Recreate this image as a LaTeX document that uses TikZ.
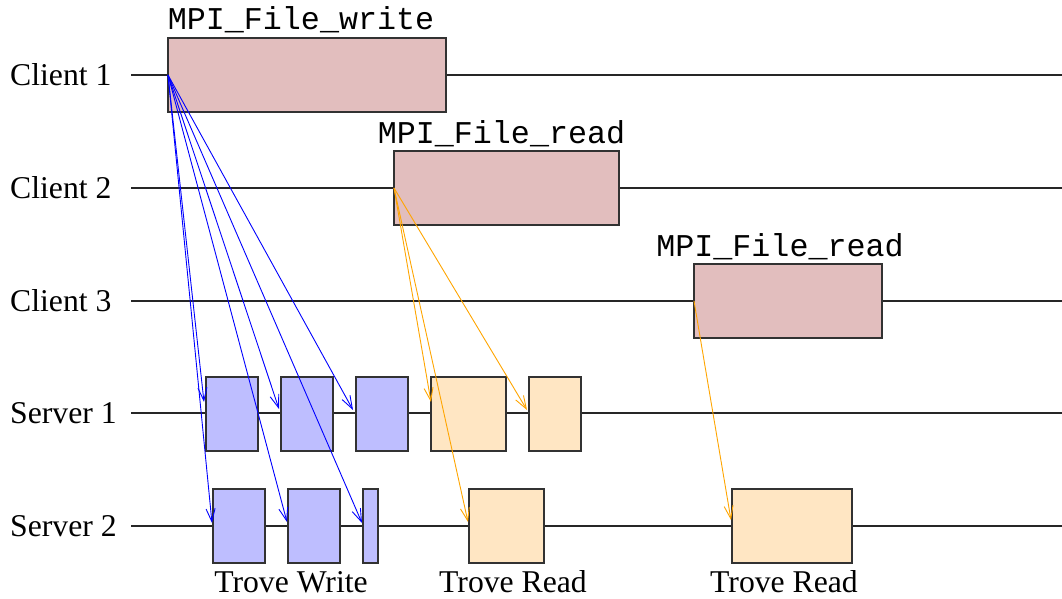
\documentclass[tikz,border=0pt]{standalone}
\usepackage{fontspec}
\setmainfont{Liberation Serif}
\setmonofont{Liberation Mono}
\usetikzlibrary{arrows.meta}
\definecolor{callfill}{RGB}{226,190,190}
\definecolor{writefill}{RGB}{190,190,255}
\definecolor{readfill}{RGB}{255,230,195}
\definecolor{boxedge}{RGB}{50,50,50}
\definecolor{readarrow}{RGB}{255,165,0}
\tikzset{
  lbl/.style={font=\fontsize{31.7}{36}\selectfont, anchor=west, inner sep=0pt},
  fname/.style={font=\fontsize{31.7}{36}\selectfont\ttfamily, anchor=base, inner sep=0pt},
  tlabel/.style={font=\fontsize{31.7}{36}\selectfont, anchor=base, inner sep=0pt},
  timeline/.style={line width=1.2pt, black!85},
  evbox/.style={draw=boxedge, line width=1.4pt, inner sep=0pt, outer sep=0pt, minimum height=74pt},
  callbox/.style={evbox, fill=callfill},
  wbox/.style={evbox, fill=writefill, minimum width=52pt},
  rbox/.style={evbox, fill=readfill},
  msg/.style={line width=0.9pt, -{Straight Barb[length=13pt,width=9pt,line width=0.9pt]}},
  wmsg/.style={msg, blue},
  rmsg/.style={msg, readarrow},
}
\begin{document}
\begin{tikzpicture}[x=1pt, y=-1pt]
\useasboundingbox (0,0) rectangle (1062,599);

% process timelines
\foreach \yy/\nm in {75/c1, 188/c2, 301/c3, 413/s1, 526/s2} {
  \coordinate (\nm-start) at (131,\yy);
  \coordinate (\nm-end) at (1062,\yy);
  \draw[timeline] (\nm-start) -- (\nm-end);
}

% process labels
\node[lbl] (lc1) at (10,75) {Client 1};
\node[lbl] (lc2) at (10,188) {Client 2};
\node[lbl] (lc3) at (10,301) {Client 3};
\node[lbl] (ls1) at (10,413) {Server 1};
\node[lbl] (ls2) at (10,526) {Server 2};

% MPI calls on the clients
\node[callbox, minimum width=278pt] (cw)  at (307,75) {};
\node[callbox, minimum width=225pt] (cr2) at (506.5,188) {};
\node[callbox, minimum width=188pt] (cr3) at (788,301) {};
\node[fname] (tcw)  at ([xshift=-6pt,yshift=8pt]cw.north)  {MPI\_File\_write};
\node[fname] (tcr2) at ([xshift=-5pt,yshift=8pt]cr2.north) {MPI\_File\_read};
\node[fname] (tcr3) at ([xshift=-8pt,yshift=8pt]cr3.north) {MPI\_File\_read};

% trove operations on server 1
\node[wbox] (s1a) at (232,414) {};
\node[wbox] (s1b) at (307,414) {};
\node[wbox] (s1c) at (382,414) {};
\node[rbox, minimum width=75pt] (s1d) at (468.5,414) {};
\node[rbox, minimum width=52pt] (s1e) at (555,414) {};

% trove operations on server 2
\node[wbox] (s2a) at (239,526) {};
\node[wbox] (s2b) at (314,526) {};
\node[wbox, minimum width=15pt] (s2c) at (370.5,526) {};
\node[rbox, minimum width=75pt] (s2d) at (506.5,526) {};
\node[rbox, minimum width=120pt] (s2e) at (792,526) {};

% operation labels
\node[tlabel] (tw)  at (291,592) {Trove Write};
\node[tlabel] (tr1) at (513,592) {Trove Read};
\node[tlabel] (tr2) at (784,592) {Trove Read};

% write requests from client 1
\draw[wmsg] (cw.west) -- ([xshift=-2pt,yshift=12pt]s1a.west);
\draw[wmsg] (cw.west) -- ([xshift=-1pt,yshift=3pt]s2a.west);
\draw[wmsg] (cw.west) -- ([xshift=-2pt,yshift=5pt]s1b.west);
\draw[wmsg] (cw.west) -- ([xshift=-1pt,yshift=4pt]s2b.west);
\draw[wmsg] (cw.west) -- ([xshift=-3pt,yshift=4pt]s1c.west);
\draw[wmsg] (cw.west) -- ([xshift=-1pt,yshift=3pt]s2c.west);

% read requests from clients 2 and 3
\draw[rmsg] (cr2.west) -- ([xshift=0pt,yshift=12pt]s1d.west);
\draw[rmsg] (cr2.west) -- ([xshift=-2pt,yshift=4pt]s1e.west);
\draw[rmsg] (cr2.west) -- ([xshift=-1pt,yshift=4pt]s2d.west);
\draw[rmsg] (cr3.west) -- ([xshift=-1pt,yshift=6pt]s2e.west);
\end{tikzpicture}
\end{document}
